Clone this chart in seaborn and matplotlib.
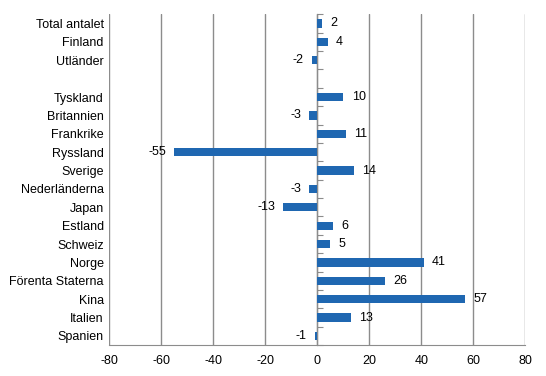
import numpy as np
import matplotlib
matplotlib.use("Agg")
import matplotlib.pyplot as plt
import pandas as pd
import seaborn as sns

# Data
countries = ["Total antalet", "Finland", "Utländer", "", "Tyskland", "Britannien",
             "Frankrike", "Ryssland", "Sverige", "Nederländerna", "Japan", "Estland",
             "Schweiz", "Norge", "Förenta Staterna", "Kina", "Italien", "Spanien"]
change = [2, 4, -2, np.nan, 10, -3, 11, -55, 14, -3, -13, 6, 5, 41, 26, 57, 13, -1]
x_ticks = [-80, -60, -40, -20, 0, 20, 40, 60, 80]

df = pd.DataFrame({"land": countries, "change": change}).dropna()

sns.set_style("white", {"text.color": "black", "xtick.color": "black",
                        "ytick.color": "black"})
plt.rcParams["font.family"] = ["Liberation Sans", "DejaVu Sans"]
plt.rcParams["font.size"] = 9

fig, ax = plt.subplots(figsize=(5.46, 3.76), dpi=100)
fig.subplots_adjust(left=0.2, right=0.962, bottom=0.082, top=0.962)

sns.barplot(data=df, x="change", y="land", order=countries, orient="h",
            color="#1F67B1", width=0.45, saturation=1, linewidth=0, ax=ax)

ax.bar_label(ax.containers[0], fmt="%g", padding=6, fontsize=9, color="black")

ax.set_xlim(-80, 80)
ax.set_ylim(len(countries) - 0.5, -0.5)
ax.set_xticks(x_ticks)
ax.set_xticklabels([str(t) for t in x_ticks])
ax.set_xlabel("")
ax.set_ylabel("")
ax.grid(axis="x", color="#8c8c8c", linewidth=1)
ax.set_axisbelow(True)

for s in ["top", "right", "left"]:
    ax.spines[s].set_visible(False)
ax.spines["bottom"].set_color("#8c8c8c")
ax.tick_params(axis="x", length=4, color="#8c8c8c", labelcolor="black",
               direction="out", pad=3)
ax.tick_params(axis="y", length=0, pad=4, labelcolor="black")

# category axis at zero with ticks between categories
sec = ax.secondary_yaxis(0.5)
sec.set_yticks(np.arange(len(countries) + 1) - 0.5)
sec.set_yticklabels([])
sec.spines["left"].set_color("#8c8c8c")
sec.tick_params(axis="y", length=4, color="#8c8c8c", direction="out")

fig.savefig("out.png", dpi=100)
